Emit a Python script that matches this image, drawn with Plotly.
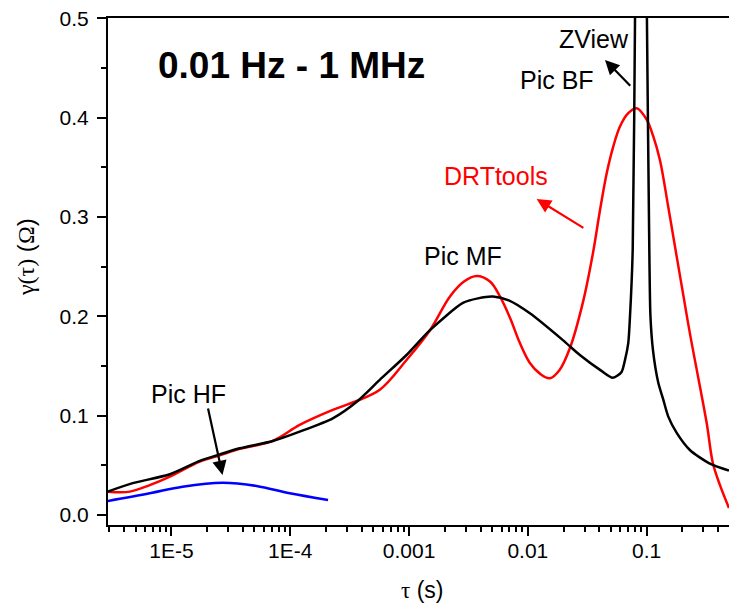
import numpy as np
import plotly.graph_objects as go

# ZView (black)
tau_zview = [2.91e-6, 4.72e-6, 9.7e-6, 1.73e-5, 2.55e-5, 3.76e-5, 7.13e-5, 1.20e-4, 2.28e-4,
             3.63e-4, 5.67e-4, 9.52e-4, 1.50e-3, 2.84e-3, 3.80e-3, 5.08e-3, 6.90e-3, 1.04e-2,
             1.97e-2, 2.74e-2, 4.05e-2, 5.20e-2, 6.15e-2, 6.57e-2, 7.00e-2, 7.24e-2, 7.63e-2,
             7.98e-2, 8.96e-2, 0.1005, 0.1055, 0.1076, 0.113, 0.1253, 0.138, 0.152, 0.179,
             0.231, 0.337, 0.493]
g_zview = [0.0235, 0.032, 0.041, 0.0544, 0.061, 0.0671, 0.0745, 0.0839, 0.0973,
           0.114, 0.136, 0.161, 0.186, 0.2134, 0.218, 0.2198, 0.216, 0.203,
           0.176, 0.161, 0.146, 0.138, 0.144, 0.156, 0.173, 0.200, 0.267,
           0.50, 1.2, 0.50, 0.257, 0.200, 0.166, 0.133, 0.116, 0.099, 0.0826,
           0.0654, 0.052, 0.0446]

# DRTtools (red)
tau_drt = [2.91e-6, 4.46e-6, 6.56e-6, 9.7e-6, 1.73e-5, 2.55e-5, 3.76e-5, 7.13e-5, 1.20e-4,
           2.28e-4, 3.49e-4, 5.67e-4, 9.52e-4, 1.50e-3, 2.21e-3, 2.90e-3, 3.70e-3, 4.80e-3,
           5.82e-3, 7.10e-3, 8.57e-3, 1.04e-2, 1.27e-2, 1.53e-2, 1.85e-2, 2.26e-2, 2.92e-2,
           3.53e-2, 4.05e-2, 4.61e-2, 5.24e-2, 5.96e-2, 7.00e-2, 8.24e-2, 0.1, 0.1137,
           0.1294, 0.152, 0.179, 0.231, 0.320, 0.361, 0.414, 0.493]
g_drt = [0.0235, 0.0235, 0.030, 0.0386, 0.0537, 0.060, 0.0665, 0.0745, 0.0906,
         0.1057, 0.114, 0.126, 0.156, 0.186, 0.220, 0.235, 0.2406, 0.235,
         0.220, 0.198, 0.173, 0.153, 0.142, 0.1376, 0.146, 0.168, 0.215,
         0.2635, 0.307, 0.344, 0.371, 0.391, 0.4044, 0.4094, 0.398, 0.381,
         0.357, 0.310, 0.260, 0.183, 0.0926, 0.052, 0.030, 0.007]

# Pic HF (blue)
tau_hf = [2.92e-6, 6.56e-6, 1.24e-5, 2.70e-5, 5.20e-5, 9.91e-5, 2.08e-4]
g_hf = [0.0141, 0.0218, 0.0285, 0.0325, 0.0292, 0.0218, 0.0151]

x_tickvals = [1e-5, 1e-4, 1e-3, 1e-2, 1e-1]
x_ticktext = ["1E-5", "1E-4", "0.001", "0.01", "0.1"]
y_tickvals = [0.0, 0.1, 0.2, 0.3, 0.4, 0.5]

FONT = "Liberation Sans, Arial, sans-serif"
GREEK = "Liberation Serif, Times New Roman, serif"

fig = go.Figure()
fig.add_trace(go.Scatter(x=tau_hf, y=g_hf, mode="lines",
                         line=dict(color="#0000ff", width=2.5, shape="spline", smoothing=1.0),
                         showlegend=False))
fig.add_trace(go.Scatter(x=tau_drt, y=g_drt, mode="lines",
                         line=dict(color="#ff0000", width=2.5, shape="spline", smoothing=1.0),
                         showlegend=False))
fig.add_trace(go.Scatter(x=tau_zview, y=g_zview, mode="lines",
                         line=dict(color="#000000", width=2.5, shape="spline", smoothing=0.7),
                         showlegend=False))

def L(v):
    return float(np.log10(v))

annotations = [
    dict(x=-3.991, y=0.452, text="<b>0.01 Hz - 1 MHz</b>", showarrow=False,
         font=dict(size=37, color="black", family=FONT)),
    dict(x=-1.444, y=0.479, text="ZView", showarrow=False,
         font=dict(size=25, color="black", family=FONT)),
    dict(x=-1.751, y=0.438, text="Pic BF", showarrow=False,
         font=dict(size=25, color="black", family=FONT)),
    dict(x=-2.269, y=0.341, text="DRTtools", showarrow=False,
         font=dict(size=25, color="#ff0000", family=FONT)),
    dict(x=-2.545, y=0.2607, text="Pic MF", showarrow=False,
         font=dict(size=25, color="black", family=FONT)),
    dict(x=-4.859, y=0.1218, text="Pic HF", showarrow=False,
         font=dict(size=25, color="black", family=FONT)),
    # arrows
    dict(x=L(0.0446), y=0.458, ax=L(0.0748), ay=0.4305, axref="x", ayref="y",
         text="", showarrow=True, arrowhead=2, arrowsize=1.3, arrowwidth=2.2, arrowcolor="black"),
    dict(x=L(0.01186), y=0.318, ax=L(0.0302), ay=0.288, axref="x", ayref="y",
         text="", showarrow=True, arrowhead=2, arrowsize=1.3, arrowwidth=2.2, arrowcolor="#ff0000"),
    dict(x=L(2.69e-5), y=0.0403, ax=L(2.02e-5), ay=0.1087, axref="x", ayref="y",
         text="", showarrow=True, arrowhead=2, arrowsize=1.3, arrowwidth=2.2, arrowcolor="black"),
    # axis titles
    dict(xref="paper", yref="paper", x=-0.132, y=0.5286, xanchor="center", yanchor="middle",
         text=f"<span style='font-family:{GREEK}'>γ(τ)</span> (<span style='font-family:{GREEK}'>Ω</span>)",
         textangle=-90, showarrow=False, font=dict(size=24, color="black", family=FONT)),
    dict(xref="paper", yref="paper", x=0.5056, y=-0.128, xanchor="center", yanchor="middle",
         text=f"<span style='font-family:{GREEK}'>τ</span> (s)",
         showarrow=False, font=dict(size=23, color="black", family=FONT)),
]

fig.update_layout(
    width=729, height=607,
    margin=dict(l=108, r=0, t=18, b=82),
    paper_bgcolor="white", plot_bgcolor="white",
    font=dict(family=FONT, color="black"),
    annotations=annotations,
    xaxis=dict(
        type="log", range=[-5.534, -0.307],
        tickvals=x_tickvals, ticktext=x_ticktext,
        ticks="outside", ticklen=9, tickwidth=2, tickcolor="black",
        minor=dict(ticks="outside", ticklen=5, tickwidth=1.5, tickcolor="black", dtick="D1",
                   showgrid=False),
        showline=True, linewidth=2, linecolor="black", mirror=True,
        showgrid=False, zeroline=False, automargin=False,
        ticklabelstandoff=-3,
        tickfont=dict(size=21, family=FONT, color="black"),
    ),
    yaxis=dict(
        range=[-0.0101, 0.5002],
        tickvals=y_tickvals, tickformat=".1f",
        ticks="outside", ticklen=9, tickwidth=2, tickcolor="black",
        minor=dict(ticks="outside", ticklen=5, tickwidth=1.5, tickcolor="black", dtick=0.05,
                   showgrid=False),
        showline=True, linewidth=2, linecolor="black",
        showgrid=False, zeroline=False, automargin=False,
        ticklabelstandoff=4,
        tickfont=dict(size=21, family=FONT, color="black"),
    ),
)

# remove the browser's default 8px body margin so the figure fills the window exactly
fig.write_html(
    "out.html",
    config={"displayModeBar": False},
    post_script="document.body.style.margin='0';document.body.style.overflow='hidden';",
)
